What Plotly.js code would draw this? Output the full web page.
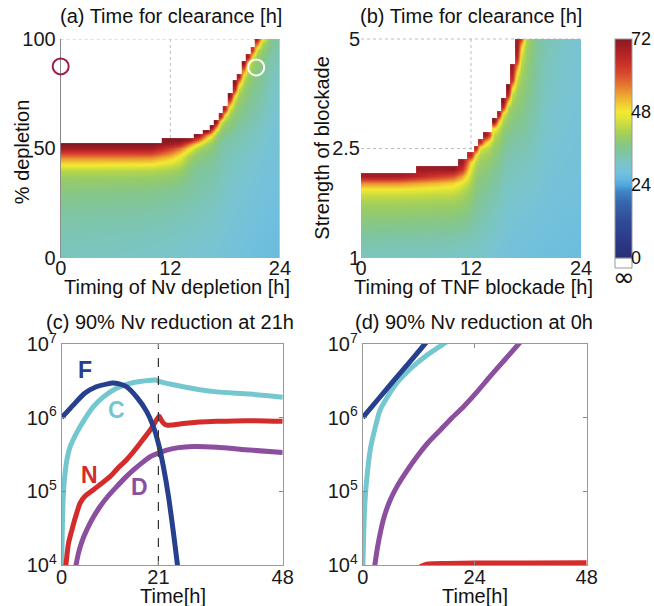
<!DOCTYPE html>
<html><head><meta charset="utf-8">
<script src="https://cdn.plot.ly/plotly-3.0.1.min.js"></script>
<style>html,body{margin:0;padding:0;background:#fff}#chart{width:654px;height:606px}</style>
</head><body><div id="chart"></div>
<script>
// ---------- Panel (a): clearance time vs timing/percentage of Nv depletion ----------
const depletionTimes = [0, 4, 8, 10, 12, 13, 14, 15, 16, 16.5, 17, 17.5, 18, 18.5, 19, 19.5, 20, 20.5, 21, 21.5, 22, 23, 24];
const depletionPct = [0, 10, 20, 30, 36, 40, 43, 46, 48, 50, 52, 54, 56, 58, 60, 62, 65, 68, 71, 74, 77, 80, 83, 86, 89, 92, 95, 98, 100];
// one column per depletion time (bottom -> top); missing cells = no clearance (infinite)
const clearanceA = [
 [32, 33, 34.5, 37, 39.5, 43, 48.5, 56, 62, 69, 72],
 [31.8, 32.8, 34.3, 36.8, 39.4, 43, 48.5, 56, 62, 69, 72],
 [31.4, 32.5, 34, 36.5, 39.2, 42.8, 48.3, 56, 62, 69, 72],
 [31.2, 32.2, 33.8, 36.3, 39, 42.5, 48, 55.5, 62, 69, 72],
 [30.8, 31.8, 33.3, 35.8, 38.3, 41.5, 45, 51, 56, 62, 69, 72],
 [30.5, 31.5, 33, 35.3, 37.6, 40.3, 43.3, 47, 51, 57.5, 67, 72],
 [30.2, 31.2, 32.5, 34.6, 36, 37.3, 38.6, 41, 44, 49.5, 57.5, 69.5],
 [30, 31, 32.2, 33.8, 34.5, 35.3, 36.4, 38, 39.5, 42, 48, 59, 72],
 [29.8, 30.7, 31.8, 33.2, 34, 34.8, 35.5, 36.6, 37.6, 39, 41, 46, 55, 72],
 [29.6, 30.5, 31.6, 33, 33.8, 34.5, 35.2, 36, 36.8, 38, 39.5, 42, 48, 59, 72],
 [29.4, 30.3, 31.3, 32.6, 33.3, 33.9, 34.4, 35, 35.6, 36.2, 37.2, 38.5, 40.8, 46, 56, 72],
 [29.1, 29.9, 30.8, 31.8, 32.4, 32.9, 33.3, 33.8, 34.2, 34.5, 35, 36, 37, 39, 41, 45.5, 68],
 [28.8, 29.5, 30.3, 31.1, 31.7, 32.1, 32.5, 32.9, 33.2, 33.6, 34, 34.5, 35.5, 37.3, 39, 40.5, 46.5, 67],
 [28.6, 29.2, 30, 30.8, 31.4, 31.8, 32.2, 32.6, 33, 33.3, 33.8, 34.3, 35, 36, 37.2, 38.5, 40.3, 44.5, 59, 72],
 [28.4, 28.9, 29.6, 30.3, 30.8, 31.2, 31.6, 32, 32.3, 32.6, 33, 33.5, 34, 34.6, 35.5, 36.4, 38, 39.7, 42, 48, 66, 72],
 [28.3, 28.7, 29.3, 30, 30.6, 31, 31.3, 31.7, 32, 32.3, 32.7, 33.1, 33.6, 34.2, 34.9, 35.6, 36.6, 37.8, 39, 40.5, 44, 53, 69],
 [28, 28.4, 29, 29.8, 30.3, 30.7, 31, 31.4, 31.7, 32, 32.4, 32.8, 33.2, 33.7, 34.2, 34.8, 35.6, 36.5, 37.5, 38.5, 39.7, 41.5, 46, 57, 72],
 [27.8, 28.3, 28.9, 29.5, 29.9, 30.3, 30.6, 30.9, 31.2, 31.5, 31.8, 32.2, 32.6, 33, 33.5, 34, 34.7, 35.5, 36.2, 37, 37.8, 38.8, 40.2, 42.5, 48, 69],
 [27.6, 28.1, 28.7, 29.2, 29.6, 29.9, 30.2, 30.5, 30.8, 31.1, 31.4, 31.7, 32.1, 32.5, 32.9, 33.3, 33.9, 34.5, 35.1, 35.8, 36.4, 37.2, 38, 39.2, 40.5, 45.5, 63],
 [27.4, 27.9, 28.4, 28.9, 29.3, 29.6, 29.8, 30.1, 30.4, 30.7, 31, 31.3, 31.6, 31.9, 32.3, 32.7, 33.2, 33.8, 34.3, 34.8, 35.4, 36, 36.7, 37.5, 38.5, 40.2, 44, 60, 70],
 [27.2, 27.7, 28.2, 28.6, 28.9, 29.1, 29.3, 29.5, 29.8, 30.1, 30.4, 30.7, 31, 31.3, 31.7, 32, 32.5, 33, 33.5, 34, 34.5, 35, 35.6, 36.2, 37, 38, 39.7, 43, 49],
 [27, 27.4, 27.9, 28.3, 28.5, 28.7, 28.8, 29, 29.1, 29.2, 29.3, 29.4, 29.6, 29.8, 30, 30.2, 30.5, 30.8, 31.1, 31.4, 31.7, 32.1, 32.5, 32.9, 33.4, 34, 34.8, 35.8, 36.5],
 [26.8, 27.2, 27.6, 28, 28.2, 28.4, 28.5, 28.6, 28.7, 28.8, 28.9, 29, 29.1, 29.2, 29.4, 29.6, 29.8, 30.1, 30.4, 30.7, 31, 31.3, 31.6, 32, 32.4, 32.9, 33.4, 34, 34.5]
];
const markerA_x = [0, 21.4];
const markerA_y = [87.5, 87];

// ---------- Panel (b): clearance time vs timing/strength of TNF blockade ----------
const blockadeTimes = [0, 4, 8, 10, 11, 12, 12.5, 13, 13.5, 14, 14.5, 15, 15.5, 16, 16.5, 17, 17.5, 18, 19, 20, 22, 24];
const blockadeStrength = ['1','1.09','1.19','1.28','1.38','1.47','1.56','1.66','1.75','1.84','1.94','2.03','2.13','2.22','2.31','2.41','2.5',
  '2.66','2.81','2.97','3.13','3.28','3.44','3.59','3.75','3.91','4.06','4.22','4.38','4.53','4.69','4.84','5'];
const clearanceB = [
 [32.2, 32.8, 33.5, 34.5, 35.5, 36.8, 38, 39.5, 41, 43.5, 47, 55, 69],
 [32, 32.6, 33.3, 34.3, 35.4, 36.7, 37.9, 39.4, 40.9, 43.4, 47, 55, 69],
 [31.6, 32.2, 33, 34, 35.2, 36.4, 37.6, 39, 40.6, 42.8, 46, 52, 63, 70],
 [31.3, 32, 32.8, 33.8, 35, 36.2, 37.4, 38.8, 40.4, 42.6, 45.5, 50, 60, 71],
 [31, 31.6, 32.4, 33.4, 34.5, 35.6, 36.8, 38, 39.4, 41.2, 43.2, 46.5, 54, 64, 70],
 [31, 31.6, 32.3, 33.1, 33.9, 34.7, 35.6, 36.6, 37.7, 38.8, 40, 41.5, 43, 45.5, 49.5, 66],
 [30.8, 31.3, 31.9, 32.5, 33.1, 33.7, 34.3, 35, 35.7, 36.5, 37.3, 38.2, 39.2, 40.5, 42.5, 47, 66],
 [30.5, 31, 31.5, 32.1, 32.6, 33.1, 33.7, 34.3, 34.9, 35.5, 36.2, 36.9, 37.7, 38.7, 40, 42, 46, 66],
 [30.2, 30.7, 31.2, 31.7, 32.2, 32.7, 33.2, 33.8, 34.4, 35, 35.7, 36.4, 37.2, 38.1, 39.3, 41, 43.5, 52, 70],
 [29.9, 30.4, 30.9, 31.4, 31.9, 32.4, 32.9, 33.4, 34, 34.6, 35.3, 36, 36.8, 37.7, 38.8, 40.3, 42.5, 47, 62],
 [29.3, 29.7, 30.2, 30.6, 31, 31.5, 31.9, 32.4, 32.9, 33.4, 34, 34.6, 35.3, 36.1, 37, 38, 39.2, 40.8, 43, 49, 72],
 [29, 29.4, 29.8, 30.2, 30.6, 31, 31.4, 31.8, 32.3, 32.8, 33.3, 33.9, 34.5, 35.2, 36, 36.9, 38, 39.3, 41, 43.5, 50, 68],
 [28.7, 29, 29.3, 29.6, 29.9, 30.2, 30.5, 30.9, 31.3, 31.7, 32.1, 32.6, 33.1, 33.7, 34.3, 35, 35.8, 36.8, 38, 39.5, 42, 46, 65, 72],
 [28.5, 28.7, 28.9, 29.2, 29.5, 29.8, 30.1, 30.4, 30.7, 31, 31.4, 31.8, 32.2, 32.7, 33.2, 33.8, 34.5, 35.3, 36.3, 37.5, 38.8, 40, 43, 52, 67, 72],
 [28.3, 28.5, 28.7, 28.9, 29.2, 29.5, 29.8, 30.1, 30.4, 30.7, 31, 31.4, 31.8, 32.2, 32.7, 33.2, 33.8, 34.5, 35.3, 36.3, 37.3, 38.3, 39.7, 41.5, 44, 51, 64, 68, 70],
 [28.1, 28.3, 28.5, 28.7, 29, 29.3, 29.6, 29.9, 30.2, 30.5, 30.8, 31.2, 31.6, 32, 32.5, 33, 33.6, 34.2, 34.9, 35.7, 36.5, 37.2, 38, 39, 40, 41.5, 43.5, 48, 55, 64, 68, 70, 69],
 [28, 28.2, 28.4, 28.6, 28.9, 29.2, 29.5, 29.8, 30.1, 30.4, 30.7, 31.1, 31.5, 31.9, 32.4, 32.9, 33.4, 34, 34.6, 35.3, 36, 36.6, 37.2, 37.9, 38.6, 39.4, 40.3, 41.3, 42.5, 44, 46.5, 51, 62],
 [27.9, 28.1, 28.3, 28.5, 28.7, 29, 29.3, 29.6, 29.9, 30.2, 30.5, 30.9, 31.3, 31.7, 32.1, 32.5, 33, 33.5, 34, 34.5, 35, 35.5, 36, 36.5, 37, 37.5, 38, 38.5, 39, 39.5, 40.2, 41, 42.5],
 [27.7, 27.9, 28.1, 28.3, 28.5, 28.7, 28.9, 29.2, 29.5, 29.8, 30.1, 30.4, 30.7, 31, 31.3, 31.6, 31.9, 32.2, 32.5, 32.8, 33.1, 33.4, 33.7, 34, 34.3, 34.6, 34.8, 35, 35.2, 35.4, 35.6, 35.8, 36],
 [27.5, 27.6, 27.8, 28, 28.1, 28.3, 28.4, 28.6, 28.8, 28.9, 29.1, 29.3, 29.5, 29.7, 29.9, 30.1, 30.3, 30.5, 30.7, 30.9, 31.1, 31.3, 31.5, 31.7, 31.9, 32.1, 32.3, 32.5, 32.7, 32.9, 33.1, 33.3, 33.5],
 [27.3, 27.4, 27.5, 27.6, 27.7, 27.8, 27.9, 28, 28.1, 28.3, 28.4, 28.6, 28.7, 28.9, 29, 29.1, 29.3, 29.4, 29.5, 29.7, 29.8, 29.9, 30, 30.1, 30.2, 30.3, 30.4, 30.5, 30.6, 30.7, 30.8, 30.9, 31],
 [27.1, 27.2, 27.3, 27.4, 27.5, 27.6, 27.7, 27.8, 27.9, 28, 28.1, 28.2, 28.3, 28.4, 28.5, 28.6, 28.7, 28.8, 28.9, 29, 29.1, 29.2, 29.3, 29.4, 29.5, 29.5, 29.6, 29.7, 29.8, 29.8, 29.9, 29.9, 30]
];
const colorbarTicks = [0, 24, 48, 72];

// ---------- Panel (c): 90% Nv reduction at 21h ----------
const cTimeF = [0, 1, 2.5, 5, 7.5, 10, 11, 12.5, 14.1, 16.3, 18.5, 19.9, 21, 22.1, 23.2, 24.2, 25.1, 25.5];
const cF = [1.0e6, 1.17e6, 1.48e6, 2.14e6, 2.63e6, 2.88e6, 2.95e6, 2.88e6, 2.63e6, 1.9e6, 1.2e6, 7.59e5, 4.47e5, 2.14e5, 8.5e4, 2.95e4, 1.05e4, 6.3e3];
const cTimeC = [0.02, 0.1, 0.2, 0.4, 0.72, 1.2, 1.8, 2.5, 3.3, 5, 6.9, 9, 11.9, 14.5, 17, 20.3, 21.3, 24, 26.4, 30, 33.7, 40.9, 48];
const cC = [1.0e4, 2.24e4, 4.57e4, 1.0e5, 1.74e5, 2.82e5, 3.98e5, 5.01e5, 6.31e5, 9.55e5, 1.41e6, 1.9e6, 2.51e6, 2.88e6, 3.09e6, 3.24e6, 3.09e6, 2.82e6, 2.63e6, 2.4e6, 2.24e6, 2.09e6, 1.9e6];
const cTimeN = [0.8, 1.5, 2.2, 3, 4, 5, 6.9, 8.5, 10.5, 12, 14.1, 15.5, 17, 18.5, 19.5, 20.3, 20.8, 21.2, 21.6, 22.2, 22.8, 24, 26.4, 30, 33.7, 40, 48];
const cN = [8.5e3, 2.0e4, 2.95e4, 4.47e4, 6.92e4, 8.51e4, 1.05e5, 1.26e5, 1.58e5, 2.0e5, 2.69e5, 3.39e5, 4.47e5, 5.89e5, 7.24e5, 8.71e5, 9.77e5, 1.05e6, 9.33e5, 8.32e5, 7.94e5, 7.94e5, 8.32e5, 8.71e5, 8.91e5, 9.12e5, 8.91e5];
const cTimeD = [2.9, 3.6, 4.3, 5.4, 6.8, 8.3, 10, 11.9, 13.7, 15.6, 17.5, 19.2, 21, 22.8, 25, 28.6, 33.7, 40.9, 48];
const cD = [8.5e3, 1.41e4, 2.0e4, 2.95e4, 4.37e4, 6.17e4, 8.51e4, 1.15e5, 1.51e5, 1.95e5, 2.45e5, 2.95e5, 3.31e5, 3.63e5, 3.89e5, 4.07e5, 3.98e5, 3.63e5, 3.37e5];
const reductionTime = 21;

// ---------- Panel (d): 90% Nv reduction at 0h ----------
const dTimeF = [0, 3.3, 6.6, 10, 13.3, 14];
const dF = [1.0e6, 1.78e6, 3.16e6, 5.62e6, 1.0e7, 1.12e7];
const dTimeC = [0.05, 0.2, 0.5, 1, 1.6, 2.5, 3.7, 5, 7.3, 9.5, 11.6, 14, 17.3, 18];
const dC = [1.0e4, 2.51e4, 7.59e4, 1.78e5, 3.63e5, 6.61e5, 1.26e6, 1.78e6, 2.95e6, 4.17e6, 5.5e6, 7.24e6, 1.0e7, 1.07e7];
const dTimeD = [2.4, 2.6, 3.2, 4.4, 5.8, 7.3, 9.5, 11.6, 14, 16.6, 19, 21.6, 24.5, 27.3, 30.5, 33.4, 34];
const dD = [8.5e3, 1.0e4, 1.78e4, 4.07e4, 7.41e4, 1.15e5, 1.91e5, 2.95e5, 4.57e5, 6.76e5, 9.77e5, 1.41e6, 2.24e6, 3.63e6, 6.17e6, 1.0e7, 1.1e7];
const dTimeN = [12.3, 14, 18, 24, 36, 48];
const dN = [9.5e3, 1.03e4, 1.05e4, 1.06e4, 1.065e4, 1.07e4];

const yTicksLog = [1e4, 1e5, 1e6, 1e7];
const yTickText = ['10<sup>4</sup>', '10<sup>5</sup>', '10<sup>6</sup>', '10<sup>7</sup>'];

// ---------- styling ----------
const FONT = 'Liberation Sans, Arial, Helvetica, sans-serif';
const FS = 20;
const colF = '#27408e', colC = '#74c7cf', colN = '#d42b2b', colD = '#8c4f9f';
const scale = [
 [0, 'rgb(40,46,115)'], [0.0833, 'rgb(44,58,135)'], [0.1667, 'rgb(48,75,152)'], [0.25, 'rgb(55,100,172)'],
 [0.3056, 'rgb(62,135,198)'], [0.3333, 'rgb(78,168,222)'], [0.3611, 'rgb(100,184,224)'], [0.3889, 'rgb(114,192,220)'],
 [0.4167, 'rgb(121,196,211)'], [0.4444, 'rgb(123,197,192)'], [0.4722, 'rgb(126,197,170)'], [0.5, 'rgb(131,198,146)'],
 [0.5278, 'rgb(141,201,120)'], [0.5556, 'rgb(156,205,100)'], [0.5833, 'rgb(176,212,80)'], [0.6111, 'rgb(200,220,65)'],
 [0.6389, 'rgb(225,228,55)'], [0.6667, 'rgb(242,234,50)'], [0.6944, 'rgb(242,210,50)'], [0.7222, 'rgb(240,185,50)'],
 [0.75, 'rgb(236,158,50)'], [0.7778, 'rgb(230,130,50)'], [0.8056, 'rgb(225,105,48)'], [0.8333, 'rgb(218,80,46)'],
 [0.875, 'rgb(205,55,42)'], [0.9167, 'rgb(190,38,40)'], [0.9583, 'rgb(165,30,38)'], [1, 'rgb(135,25,35)']
];

const line = (x, y, color, xa, ya) => ({
  type: 'scatter', mode: 'lines', x: x, y: y, xaxis: xa, yaxis: ya,
  line: {color: color, width: 5, shape: 'spline', smoothing: 0.6}, hoverinfo: 'skip', showlegend: false
});

const tickFont = {family: FONT, size: FS, color: '#1a1a1a'};

// colorbar geometry (pixels): bar from y=39 (72) to y=258 (0), x 615..632
const cbTop = 39, cbBottom = 258;

const traces = [
  {type: 'heatmap', x: depletionTimes, y: depletionPct, z: clearanceA, transpose: true, zsmooth: 'best',
   colorscale: scale, zmin: 0, zmax: 72, xaxis: 'x', yaxis: 'y', hoverinfo: 'skip', showscale: true,
   colorbar: {x: 615/654, xanchor: 'left', y: 0.755, yanchor: 'middle', len: 219, lenmode: 'pixels',
     thickness: 17, thicknessmode: 'pixels', xpad: 0, ypad: 0, outlinewidth: 1, outlinecolor: '#999',
     tickmode: 'array', tickvals: colorbarTicks, ticks: '', showticklabels: false}},
  {type: 'heatmap', x: blockadeTimes, y: blockadeStrength, z: clearanceB, transpose: true, zsmooth: 'best',
   colorscale: scale, zmin: 0, zmax: 72, xaxis: 'x2', yaxis: 'y2', hoverinfo: 'skip', showscale: false},
  {type: 'scatter', mode: 'markers', x: [markerA_x[0]], y: [markerA_y[0]], xaxis: 'x', yaxis: 'y', cliponaxis: false,
   marker: {symbol: 'circle-open', size: 16, color: '#9e1f45', line: {width: 2, color: '#9e1f45'}}, hoverinfo: 'skip', showlegend: false},
  {type: 'scatter', mode: 'markers', x: [markerA_x[1]], y: [markerA_y[1]], xaxis: 'x', yaxis: 'y', cliponaxis: false,
   marker: {symbol: 'circle-open', size: 16, color: '#ffffff', line: {width: 2, color: '#ffffff'}}, hoverinfo: 'skip', showlegend: false},
  // panel c
  line(cTimeC, cC, colC, 'x3', 'y3'),
  line(cTimeD, cD, colD, 'x3', 'y3'),
  line(cTimeN, cN, colN, 'x3', 'y3'),
  line(cTimeF, cF, colF, 'x3', 'y3'),
  {type: 'scatter', mode: 'lines', x: [reductionTime, reductionTime], y: [yTicksLog[0], yTicksLog[3]], xaxis: 'x3', yaxis: 'y3',
   line: {color: '#333', width: 1.2, dash: 'dash'}, hoverinfo: 'skip', showlegend: false},
  // panel d
  line(dTimeC, dC, colC, 'x4', 'y4'),
  line(dTimeD, dD, colD, 'x4', 'y4'),
  line(dTimeN, dN, colN, 'x4', 'y4'),
  line(dTimeF, dF, colF, 'x4', 'y4')
];

const heatX = (dom, anchor) => ({domain: dom, anchor: anchor, range: [0, 24], tickmode: 'array', tickvals: [0, 12, 24], ticks: '',
  showgrid: false, zeroline: false, showline: false, tickfont: tickFont, fixedrange: true, ticklabelstandoff: -4});
const logY = (dom, anchor) => ({domain: dom, anchor: anchor, type: 'log', range: [4, 7], tickmode: 'array', tickvals: yTicksLog,
  ticktext: yTickText, ticks: 'inside', ticklen: 4, tickcolor: '#888', showline: true, linecolor: '#999',
  linewidth: 1, mirror: 'ticks', showgrid: false, zeroline: false, tickfont: tickFont, ticklabelstandoff: 0});
const timeX = (dom, anchor, tv) => ({domain: dom, anchor: anchor, range: [0, 48], tickmode: 'array', tickvals: tv,
  ticks: 'inside', ticklen: 4, tickcolor: '#888', showline: true, linecolor: '#999', linewidth: 1, mirror: 'ticks',
  showgrid: false, zeroline: false, tickfont: tickFont, ticklabelstandoff: -6});

const dotted = {color: '#bdbdbd', width: 1, dash: 'dot'};
const ann = (text, x, y, extra) => Object.assign({text: text, x: x, y: y, xref: 'paper', yref: 'paper',
  showarrow: false, xanchor: 'center', yanchor: 'middle', font: {family: FONT, size: FS, color: '#111'}}, extra || {});
const letter = (t, x, ly, color) => ({text: '<b>' + t + '</b>', x: x, y: ly, xref: 'x3', yref: 'y3', showarrow: false,
  font: {family: FONT, size: 23, color: color}, xanchor: 'center', yanchor: 'middle'});
const cbLabels = colorbarTicks.map(v => ann(String(v), 630/654,
  (606 - (cbTop + (72 - v) / 72 * (cbBottom - cbTop))) / 606,
  {xanchor: 'left', borderpad: 0, font: {family: FONT, size: 18, color: '#111'}}));

const layout = {
  width: 654, height: 606, margin: {l: 0, r: 0, t: 0, b: 0},
  paper_bgcolor: '#fff', plot_bgcolor: 'rgba(0,0,0,0)', showlegend: false, hovermode: false,
  font: {family: FONT, size: FS, color: '#1a1a1a'},
  xaxis: heatX([0.0928, 0.4281], 'y'),
  yaxis: {domain: [0.5743, 0.9356], anchor: 'x', range: [0, 100], tickmode: 'array', tickvals: [0, 50, 100], ticks: '',
    showgrid: false, zeroline: false, showline: true, linecolor: '#888', linewidth: 1, layer: 'below traces',
    tickfont: tickFont, fixedrange: true, ticklabelstandoff: 0},
  xaxis2: heatX([0.552, 0.8884], 'y2'),
  yaxis2: {domain: [0.5743, 0.9356], anchor: 'x2', type: 'category', range: [0, 32], autorange: false, tickmode: 'array',
    tickvals: ['1', '2.5', '5'], ticktext: ['1', '2.5', '5'], ticks: '', showgrid: false, zeroline: false,
    showline: false, tickfont: tickFont, fixedrange: true, ticklabelstandoff: 0},
  xaxis3: timeX([0.0943, 0.4323], 'y3', [0, 21, 48]),
  yaxis3: logY([0.0677, 0.4323], 'x3'),
  xaxis4: timeX([0.5546, 0.8971], 'y4', [0, 24, 48]),
  yaxis4: logY([0.0677, 0.4323], 'x4'),
  shapes: [
    {type: 'line', xref: 'x', yref: 'y domain', x0: 12, x1: 12, y0: 0, y1: 1, layer: 'below', line: dotted},
    {type: 'line', xref: 'x domain', yref: 'y', x0: 0, x1: 1, y0: 50, y1: 50, layer: 'below', line: dotted},
    {type: 'line', xref: 'x domain', yref: 'y', x0: 0, x1: 1, y0: 100, y1: 100, layer: 'below', line: dotted},
    {type: 'line', xref: 'x2', yref: 'y2 domain', x0: 12, x1: 12, y0: 0, y1: 1, layer: 'below', line: dotted},
    {type: 'line', xref: 'x2 domain', yref: 'y2 domain', x0: 0, x1: 1, y0: 0.5, y1: 0.5, layer: 'below', line: dotted},
    {type: 'line', xref: 'x2 domain', yref: 'y2 domain', x0: 0, x1: 1, y0: 1, y1: 1, layer: 'below', line: dotted},
    {type: 'rect', xref: 'paper', yref: 'paper', x0: 615/654, x1: 632/654, y0: (606-268)/606, y1: (606-258)/606,
     fillcolor: '#fff', line: {color: '#999', width: 1}}
  ],
  annotations: [
    ann('(a) Time for clearance [h]', 0.261, 0.974),
    ann('(b) Time for clearance [h]', 0.7202, 0.974),
    ann('Timing of Nv depletion [h]', 0.2706, 0.5264),
    ann('Timing of TNF blockade [h]', 0.724, 0.5264),
    ann('% depletion', 0.0332, 0.75, {textangle: -90}),
    ann('Strength of blockade', 0.4919, 0.7558, {textangle: -90}),
    ann('∞', 624/654, (606-277)/606, {font: {family: 'DejaVu Sans, sans-serif', size: 26, color: '#111'}}),
    ann('(c) 90% Nv reduction at 21h', 0.26, 0.4691),
    ann('(d) 90% Nv reduction at 0h', 0.7248, 0.4691),
    ann('Time[h]', 0.2638, 0.0165),
    ann('Time[h]', 0.7263, 0.0165),
    letter('F', 5.06, 6.65, colF),
    letter('C', 11.9, 6.10, colC),
    letter('N', 6.15, 5.22, colN),
    letter('D', 17, 5.06, colD)
  ].concat(cbLabels)
};

Plotly.newPlot('chart', traces, layout, {staticPlot: true, displayModeBar: false});
</script></body></html>
